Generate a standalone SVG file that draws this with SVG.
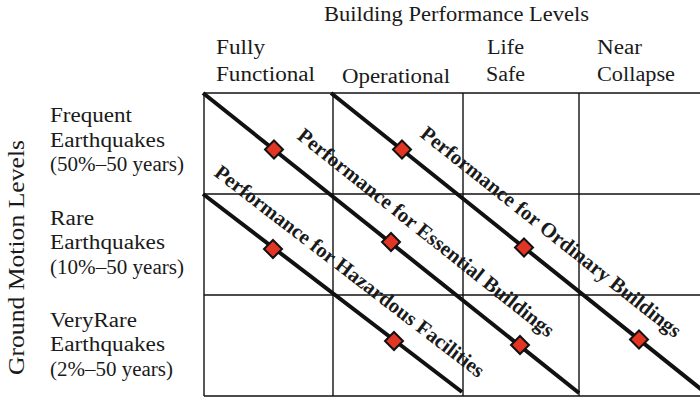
<svg xmlns="http://www.w3.org/2000/svg" width="700" height="398" viewBox="0 0 700 398">
  <style>
    .lbl { font-family: "Liberation Serif", "Times New Roman", serif; font-size: 20px; fill: #1a1a1a; }
    .axis { font-family: "Liberation Serif", "Times New Roman", serif; font-size: 23px; fill: #1a1a1a; }
    .perf { font-family: "Liberation Serif", "Times New Roman", serif; font-size: 20.8px; font-weight: bold; fill: #1a1a1a; }
    .grid { stroke: #111; stroke-width: 1.4; fill: none; }
    .curve { stroke: #111; stroke-width: 4; fill: none; }
    .pt { fill: #e23524; stroke: #111; stroke-width: 2; stroke-linejoin: miter; }
  </style>
  <defs>
    <polygon id="diamond" class="pt" points="0,-9 9,0 0,9 -9,0"/>
  </defs>
  <rect width="700" height="398" fill="#ffffff"/>

  <!-- column headings -->
  <g id="header">
    <text class="lbl" x="324" y="21" textLength="265" lengthAdjust="spacingAndGlyphs">Building Performance Levels</text>
  </g>
  <g id="col-fully-functional">
    <text class="lbl" x="216" y="54" textLength="49" lengthAdjust="spacingAndGlyphs">Fully</text>
    <text class="lbl" x="216" y="81" textLength="99" lengthAdjust="spacingAndGlyphs">Functional</text>
  </g>
  <g id="col-operational">
    <text class="lbl" x="342" y="83" textLength="108" lengthAdjust="spacingAndGlyphs">Operational</text>
  </g>
  <g id="col-life-safe">
    <text class="lbl" x="487" y="54" textLength="37" lengthAdjust="spacingAndGlyphs">Life</text>
    <text class="lbl" x="486" y="81" textLength="39" lengthAdjust="spacingAndGlyphs">Safe</text>
  </g>
  <g id="col-near-collapse">
    <text class="lbl" x="597" y="54" textLength="45" lengthAdjust="spacingAndGlyphs">Near</text>
    <text class="lbl" x="597" y="81" textLength="78" lengthAdjust="spacingAndGlyphs">Collapse</text>
  </g>

  <!-- row headings -->
  <g id="axis-ground-motion">
    <text class="axis" transform="translate(23.5,375) rotate(-90)" x="0" y="0" textLength="235" lengthAdjust="spacingAndGlyphs">Ground Motion Levels</text>
  </g>
  <g id="row-frequent">
    <text class="lbl" x="50" y="122" textLength="82" lengthAdjust="spacingAndGlyphs">Frequent</text>
    <text class="lbl" x="50" y="147" textLength="115" lengthAdjust="spacingAndGlyphs">Earthquakes</text>
    <text class="lbl" x="50" y="171" textLength="134" lengthAdjust="spacingAndGlyphs">(50%–50 years)</text>
  </g>
  <g id="row-rare">
    <text class="lbl" x="50" y="225" textLength="44" lengthAdjust="spacingAndGlyphs">Rare</text>
    <text class="lbl" x="50" y="249" textLength="115" lengthAdjust="spacingAndGlyphs">Earthquakes</text>
    <text class="lbl" x="50" y="274" textLength="134" lengthAdjust="spacingAndGlyphs">(10%–50 years)</text>
  </g>
  <g id="row-very-rare">
    <text class="lbl" x="50" y="327" textLength="87" lengthAdjust="spacingAndGlyphs">VeryRare</text>
    <text class="lbl" x="50" y="351" textLength="115" lengthAdjust="spacingAndGlyphs">Earthquakes</text>
    <text class="lbl" x="50" y="376" textLength="123" lengthAdjust="spacingAndGlyphs">(2%–50 years)</text>
  </g>

  <!-- performance matrix -->
  <g id="matrix" class="grid">
    <line x1="204" y1="93" x2="700" y2="93"/>
    <line x1="204" y1="194" x2="700" y2="194"/>
    <line x1="204" y1="295" x2="700" y2="295"/>
    <line x1="204" y1="396" x2="700" y2="396"/>
    <line x1="204" y1="93" x2="204" y2="396"/>
    <line x1="333" y1="93" x2="333" y2="396"/>
    <line x1="463" y1="93" x2="463" y2="396"/>
    <line x1="579" y1="93" x2="579" y2="396"/>
  </g>

  <!-- performance objective lines -->
  <g id="connectors">
    <line class="curve" x1="203" y1="93" x2="579" y2="393"/>
    <line class="curve" x1="331" y1="93" x2="702" y2="390"/>
    <line class="curve" x1="203" y1="194" x2="462" y2="392"/>
  </g>

  <g id="essential">
    <use href="#diamond" x="274" y="149.5"/>
    <use href="#diamond" x="391" y="242"/>
    <use href="#diamond" x="520" y="345"/>
    <text class="perf" transform="translate(296,138) rotate(38.5)">Performance for Essential Buildings</text>
  </g>
  <g id="ordinary">
    <use href="#diamond" x="402" y="149.5"/>
    <use href="#diamond" x="524" y="247.5"/>
    <use href="#diamond" x="639" y="339.5"/>
    <text class="perf" transform="translate(419,136) rotate(38.4)">Performance for Ordinary Buildings</text>
  </g>
  <g id="hazardous">
    <use href="#diamond" x="273" y="249"/>
    <use href="#diamond" x="394" y="341"/>
    <text class="perf" transform="translate(213,175) rotate(37.5)">Performance for Hazardous Facilities</text>
  </g>
</svg>
